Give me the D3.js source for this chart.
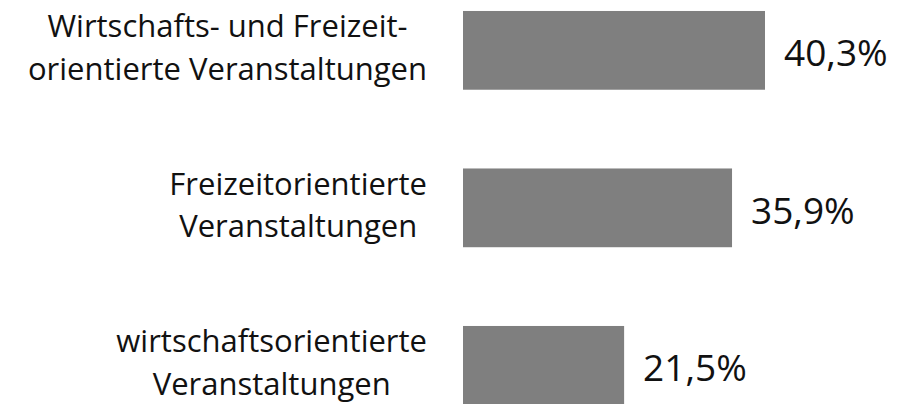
<!DOCTYPE html>
<html>
<head>
<meta charset="utf-8">
<script src="https://cdn.jsdelivr.net/npm/d3@7"></script>
<style>
    body { margin: 0; background: #fff; }
    text { font-family: "Open Sans", "Noto Sans", sans-serif; fill: #111; }
</style>
</head>
<body>
<script>
//category names, one array of lines per bar
var categories = [
    ["Wirtschafts- und Freizeit-", "orientierte Veranstaltungen"],
    ["Freizeitorientierte", "Veranstaltungen"],
    ["wirtschaftsorientierte", "Veranstaltungen"]
];

//share of events in percent
var values = [40.3, 35.9, 21.5];

//value labels as printed
var valueLabels = ["40,3%", "35,9%", "21,5%"];

window.onload = function(){

    //SVG dimension variables
    var w = 900, h = 404;

    var svg = d3.select("body")
        .append("svg")
        .attr("width", w)
        .attr("height", h);

    //x scale: bar length
    var x = d3.scaleLinear()
        .domain([0, 40.3])
        .range([463, 765]);

    //y scale: one band per category (last bar is cut by the picture edge)
    var y = d3.scaleBand()
        .domain(d3.range(categories.length))
        .range([-28.4, 444.1])
        .paddingInner(0.5)
        .paddingOuter(0.25);

    //bars
    svg.selectAll(".bar")
        .data(values)
        .enter()
        .append("rect")
        .attr("class", "bar")
        .attr("x", x(0))
        .attr("y", function(d, i){ return y(i); })
        .attr("width", function(d){ return x(d) - x(0); })
        .attr("height", y.bandwidth())
        .style("fill", "#7f7f7f");

    //value labels right of bars
    svg.selectAll(".value")
        .data(values)
        .enter()
        .append("text")
        .attr("class", "value")
        .attr("x", function(d){ return x(d) + 19; })
        .attr("y", function(d, i){ return y(i) + y.bandwidth() / 2 + 16; })
        .style("font-size", "37px")
        .text(function(d, i){ return valueLabels[i]; });

    //category labels: lines centred within a block that ends at 427
    var labels = svg.selectAll(".label")
        .data(categories)
        .enter()
        .append("text")
        .attr("class", "label")
        .attr("text-anchor", "middle")
        .style("font-size", "31px")
        .attr("y", function(d, i){ return y(i) + y.bandwidth() / 2 - 13; });

    labels.selectAll("tspan")
        .data(function(d){ return d; })
        .enter()
        .append("tspan")
        .attr("dy", function(d, j){ return j === 0 ? 0 : 42.5; })
        .text(function(d){ return d; });

    labels.each(function(){
        var t = d3.select(this);
        var maxW = d3.max(t.selectAll("tspan").nodes(), function(n){
            return n.getComputedTextLength();
        });
        t.selectAll("tspan").attr("x", 427 - maxW / 2);
    });
};
</script>
</body>
</html>
